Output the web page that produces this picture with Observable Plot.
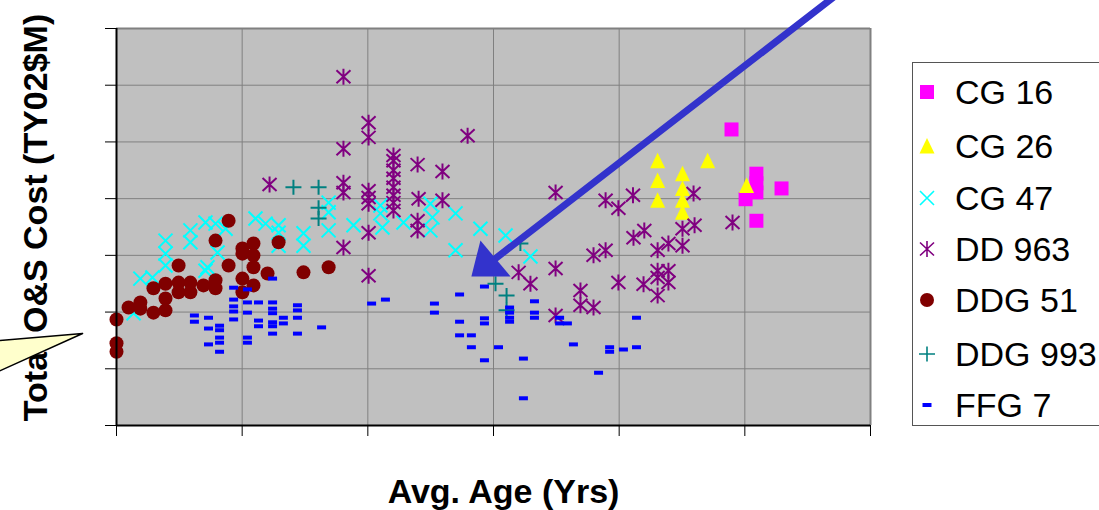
<!DOCTYPE html>
<html>
<head>
<meta charset="utf-8">
<script src="https://cdn.jsdelivr.net/npm/d3@7"></script>
<script src="https://cdn.jsdelivr.net/npm/@observablehq/plot@0.6"></script>
<style>
  html, body { margin: 0; padding: 0; background: #fff; }
  #wrap { position: relative; width: 1099px; height: 510px; overflow: hidden; font-family: Arial, "Liberation Sans", sans-serif; }
  #legend { position: absolute; left: 912px; top: 62px; width: 220px; height: 364px; border: 1.5px solid #555; background: #fff; box-sizing: border-box; }
  .item { position: absolute; left: 0; height: 40px; display: flex; align-items: center; }
  .item svg { position: absolute; left: 4px; }
  .item span { position: absolute; left: 42px; font-size: 34px; color: #000; white-space: nowrap; line-height: 40px; top: 0; }
</style>
</head>
<body>
<div id="wrap"></div>
<script>
// ---- data (x = average age in years, y = total O&S cost) ----
const seriesNames = ["CG 16", "CG 26", "CG 47", "DD 963", "DDG 51", "DDG 993", "FFG 7"];
const xTicks = [0, 5, 10, 15, 20, 25, 30];
const yTicks = [0, 100, 200, 300, 400, 500, 600, 700];

const cg16 = [[24.47,522],[25.46,444],[25.46,427],[25.46,411],[25.03,399],[26.46,418],[25.46,361]];
const cg26 = [[21.53,467],[21.53,432],[21.53,397],[22.52,444],[22.52,418],[22.52,397],[22.52,376],[23.52,467],[25.07,423]];
const cg47 = [[0.95,259],[1.43,261],[1.95,326],[1.95,303],[1.95,282],[2.94,344],[2.94,323],[3.54,358],[3.94,356],
  [4.02,305],[3.62,279],[3.54,273],[4.34,347],[5.53,365],[5.93,356],[6.45,353],[6.45,340],[6.45,317],[7.44,339],[7.44,317],
  [8.44,393],[8.44,376],[8.44,344],[9.43,353],[10.50,388],[10.50,374],[10.58,349],[11.42,358],[12.49,391],[12.57,367],
  [12.49,344],[13.49,374],[14.48,347],[15.48,335],[13.49,309],[16.47,298],[0.68,198]];
const dd963 = [[9.03,615],[9.03,488],[9.03,428],[9.03,411],[9.03,314],[10.03,534],[10.03,508],[10.03,414],[10.03,402],
  [10.03,391],[10.03,340],[10.03,264],[11.02,476],[11.02,467],[11.02,450],[11.02,436],[11.02,420],[11.02,406],[11.02,393],
  [11.02,379],[11.98,460],[12.02,400],[11.98,361],[11.98,344],[12.97,448],[12.97,397],[13.97,511],[6.09,425],
  [17.47,411],[19.46,397],[19.97,383],[20.55,406],[22.96,409],[24.51,358],[22.52,347],[23.0,353],[20.57,331],[21.0,344],
  [21.53,309],[21.96,321],[22.52,317],[18.98,300],[19.46,309],[17.47,277],[16.0,270],[16.47,250],[19.97,252],[20.97,249],
  [21.53,273],[21.53,261],[21.96,273],[21.96,252],[21.53,229],[18.46,238],[18.46,212],[18.98,208],[17.47,194]];
const ddg51 = [[0,187],[0,145],[0,130],[0.48,208],[0.95,217],[0.95,206],[1.47,242],[1.47,199],[1.95,250],[1.95,224],
  [1.95,203],[2.47,282],[2.47,252],[2.47,235],[2.94,252],[2.94,235],[3.46,247],[3.94,256],[3.94,242],[3.94,326],
  [4.46,361],[4.46,282],[5.01,312],[5.01,303],[5.01,259],[5.01,235],[5.45,321],[5.45,300],[5.45,279],[5.45,247],
  [6.01,268],[6.45,323],[7.44,270],[8.44,279]];
const ddg993 = [[7.04,420],[8.04,420],[8.04,384],[8.04,365],[16.07,321],[15.08,250],[15.52,229],[15.52,203]];
const ffg7 = [[3.10,194],[3.10,183],[3.66,190],[3.66,171],[3.66,143],[4.10,176],[4.10,168],[4.10,155],[4.10,146],
  [4.10,130],[4.66,243],[4.66,222],[4.66,210],[4.66,201],[4.66,187],[5.21,240],[5.21,217],[5.21,199],[5.21,155],
  [5.21,146],[5.65,217],[5.65,185],[5.65,175],[6.21,259],[6.21,217],[6.21,206],[6.21,198],[6.21,182],[6.21,175],
  [6.21,162],[6.64,190],[6.64,180],[7.20,212],[7.20,203],[7.20,190],[7.20,162],[8.16,173],[10.15,215],[10.70,222],
  [12.65,215],[12.65,199],[13.65,231],[14.64,245],[13.65,183],[13.65,159],[14.12,159],[14.12,138],[14.64,189],
  [14.64,180],[14.64,115],[15.20,138],[15.64,208],[15.64,199],[15.64,190],[15.64,183],[16.19,118],[16.19,48],
  [16.63,219],[16.63,199],[16.63,190],[17.63,190],[17.63,180],[17.94,180],[18.18,143],[19.18,93],[19.62,138],
  [19.62,130],[20.17,134],[20.69,190],[20.69,138]];

// annotations (in data units)
const arrowShaft = [[28.61,758],[15.08,294.5]];
const arrowHead = [[14.12,262.7],[14.48,326.2],[15.68,262.7]];
const callout = [[-5,148.5],[-1.35,162.2],[-5,89.2]];

// ---- marker shapes ----
const symSquare = {draw(c){ c.rect(-7,-7,14,14); }};
const symTriangle = {draw(c){ c.moveTo(0,-8); c.lineTo(7.5,7.5); c.lineTo(-7.5,7.5); c.closePath(); }};
const symTimes = {draw(c){ c.moveTo(-7,-7); c.lineTo(7,7); c.moveTo(-7,7); c.lineTo(7,-7); }};
const symAsterisk = {draw(c){ c.moveTo(0,-8); c.lineTo(0,8); c.moveTo(-7,-6.5); c.lineTo(7,6.5); c.moveTo(-7,6.5); c.lineTo(7,-6.5); }};
const symCircle = {draw(c){ c.moveTo(7,0); c.arc(0,0,7,0,2*Math.PI); c.closePath(); }};
const symPlus = {draw(c){ c.moveTo(-8,0); c.lineTo(8,0); c.moveTo(0,-7.5); c.lineTo(0,7.5); }};
const symDash = {draw(c){ c.rect(-4.5,-2,9,4); }};

const styles = [
  {data: cg16, symbol: symSquare, fill: "#ff00ff", stroke: "none"},
  {data: cg26, symbol: symTriangle, fill: "#ffff00", stroke: "none"},
  {data: cg47, symbol: symTimes, fill: "none", stroke: "#00ffff"},
  {data: dd963, symbol: symAsterisk, fill: "none", stroke: "#800080"},
  {data: ddg51, symbol: symCircle, fill: "#800000", stroke: "none"},
  {data: ddg993, symbol: symPlus, fill: "none", stroke: "#008080"},
  {data: ffg7, symbol: symDash, fill: "#0000ff", stroke: "none"}
];

const font = "Arial, 'Liberation Sans', sans-serif";

const chart = Plot.plot({
  width: 1099, height: 510,
  marginLeft: 116, marginRight: 229, marginTop: 28, marginBottom: 85,
  x: {domain: [0, 30]},
  y: {domain: [0, 700]},
  style: {fontFamily: font, background: "transparent", overflow: "visible", color: "black"},
  marks: [
    Plot.frame({fill: "#c0c0c0", stroke: "none"}),
    Plot.gridX(xTicks, {stroke: "#808080", strokeOpacity: 1, strokeWidth: 1}),
    Plot.gridY(yTicks, {stroke: "#808080", strokeOpacity: 1, strokeWidth: 1}),
    Plot.ruleY([700], {stroke: "#808080", strokeWidth: 2}),
    Plot.ruleX([30], {stroke: "#808080", strokeWidth: 2}),
    ...styles.map(s => Plot.dot(s.data, {
      x: d => d[0], y: d => d[1], symbol: s.symbol, r: 5,
      fill: s.fill, stroke: s.stroke, strokeWidth: s.stroke === "none" ? 0 : 2
    })),
    Plot.ruleX([0], {stroke: "black", strokeWidth: 2}),
    Plot.ruleY([0], {stroke: "black", strokeWidth: 2}),
    Plot.axisY({ticks: yTicks, tickSize: 11, tickPadding: 0, tickFormat: () => "", label: null, stroke: "black"}),
    Plot.axisX({ticks: xTicks, tickSize: 11, tickPadding: 0, tickFormat: () => "", label: null, stroke: "black"}),
    Plot.text(["Avg. Age (Yrs)"], {frameAnchor: "bottom", dx: 10, dy: 77, lineAnchor: "bottom",
      textAnchor: "middle", fontSize: 34, fontWeight: "bold", fill: "black"}),
    Plot.text(["Total O&S Cost (TY02$M)"], {frameAnchor: "left", dx: -70, dy: -9.5, rotate: -90, lineAnchor: "bottom",
      textAnchor: "middle", fontSize: 34, fontWeight: "bold", fill: "black"}),
    Plot.line(callout, {x: d => d[0], y: d => d[1], fill: "#ffffcc", stroke: "black", strokeWidth: 1.5, curve: "linear"}),
    Plot.line(arrowShaft, {x: d => d[0], y: d => d[1], stroke: "#3333cc", strokeWidth: 7}),
    Plot.line(arrowHead, {x: d => d[0], y: d => d[1], fill: "#3333cc", stroke: "none"})
  ]
});

const wrap = document.getElementById("wrap");
chart.style.position = "absolute";
chart.style.left = "0px";
chart.style.top = "0px";
wrap.appendChild(chart);

// ---- legend ----
const legend = document.createElement("div");
legend.id = "legend";
const rowY = [29, 83, 135, 186, 237, 291, 342];
styles.forEach((s, i) => {
  const item = document.createElement("div");
  item.className = "item";
  item.style.top = (rowY[i] - 20) + "px";
  const p = d3.path();
  s.symbol.draw(p, 0);
  const svg = d3.create("svg").attr("width", 20).attr("height", 20).style("top", "10px")
    .attr("viewBox", "-10 -10 20 20").style("overflow", "visible");
  svg.append("path").attr("d", p.toString()).attr("fill", s.fill).attr("stroke", s.stroke)
    .attr("stroke-width", s.stroke === "none" ? 0 : 1.6);
  item.appendChild(svg.node());
  const span = document.createElement("span");
  span.textContent = seriesNames[i];
  item.appendChild(span);
  legend.appendChild(item);
});
wrap.appendChild(legend);
</script>
</body>
</html>
